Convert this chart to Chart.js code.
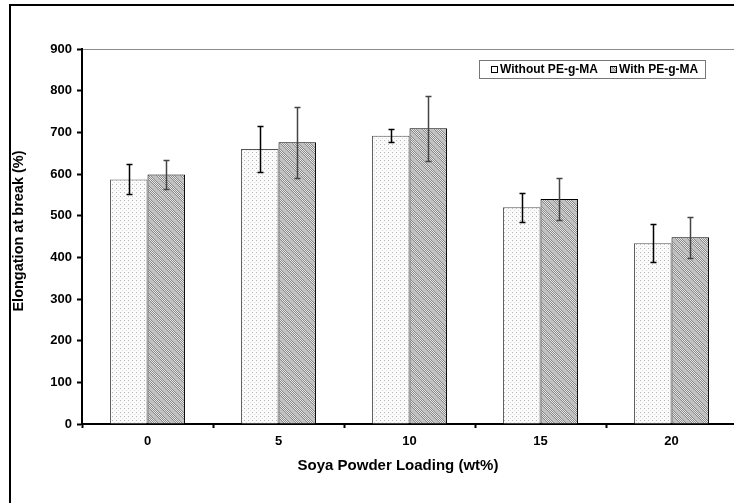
<!DOCTYPE html>
<html>
<head>
<meta charset="utf-8">
<script src="https://cdn.jsdelivr.net/npm/chart.js@4"></script>
<style>
  html, body { margin: 0; padding: 0; background: #fff; overflow: hidden; }
  #wrap { position: relative; width: 734px; height: 503px; overflow: hidden; }
  #frame { position: absolute; left: 9px; top: 4px; width: 800px; height: 600px;
           border-left: 2px solid #000; border-top: 2px solid #000; }
  #chart { position: absolute; left: 0; top: 0; }
</style>
</head>
<body>
<div id="wrap">
  <div id="frame"></div>
  <canvas id="chart" width="740" height="503"></canvas>
</div>
<script>
// Soya powder loading (wt%)
const loadings = ["0", "5", "10", "15", "20"];

// Elongation at break (%)
const withoutValues = [587, 660, 692, 520, 434];
const withoutErrors = [36, 56, 16, 34, 46];
const withValues = [599, 676, 710, 540, 448];
const withErrors = [35, 85, 78, 50, 50];

const seriesNames = ["Without PE-g-MA", "With PE-g-MA"];
const yTicks = [0, 100, 200, 300, 400, 500, 600, 700, 800, 900];

// fill patterns for the bars
const makeDots = () => {
  const c = document.createElement("canvas");
  c.width = 4; c.height = 4;
  const g = c.getContext("2d");
  g.fillStyle = "#fbfbfb";
  g.fillRect(0, 0, 4, 4);
  g.fillStyle = "#b4b4b4";
  g.fillRect(0, 0, 1, 1);
  g.fillStyle = "#dcdcdc";
  g.fillRect(2, 2, 1, 1);
  return g.createPattern(c, "repeat");
};

const makeHatch = () => {
  const n = 12;
  const c = document.createElement("canvas");
  c.width = n; c.height = n;
  const g = c.getContext("2d");
  for (let x = 0; x < n; x++) {
    for (let y = 0; y < n; y++) {
      const d = ((x - y) % n + n) % n;
      if (d < 5) g.fillStyle = "#c0c0c0";
      else g.fillStyle = (x + y) % 2 ? "#8a8a8a" : "#e6e6e6";
      g.fillRect(x, y, 1, 1);
    }
  }
  return g.createPattern(c, "repeat");
};

const dots = makeDots();
const hatch = makeHatch();

const errors = [withoutErrors, withErrors];
const errorColors = ["#000", "#444"];

// error bars with small caps
const errorBars = {
  id: "errorBars",
  afterDatasetsDraw(chart) {
    const ctx = chart.ctx;
    const y = chart.scales.y;
    chart.data.datasets.forEach((ds, i) => {
      const meta = chart.getDatasetMeta(i);
      meta.data.forEach((bar, j) => {
        const v = ds.data[j], e = errors[i][j];
        const top = Math.round(y.getPixelForValue(v + e)) + 0.5;
        const bot = Math.round(y.getPixelForValue(v - e)) + 0.5;
        const x = Math.round(bar.x) + 0.5;
        ctx.save();
        ctx.strokeStyle = errorColors[i];
        ctx.lineWidth = 1.5;
        ctx.beginPath();
        ctx.moveTo(x, top); ctx.lineTo(x, bot);
        ctx.moveTo(x - 3, top); ctx.lineTo(x + 3, top);
        ctx.moveTo(x - 3, bot); ctx.lineTo(x + 3, bot);
        ctx.stroke();
        ctx.restore();
      });
    });
  }
};

// axis titles and the boxed legend
const decorations = {
  id: "decorations",
  afterDraw(chart) {
    const ctx = chart.ctx;
    ctx.save();
    ctx.fillStyle = "#000";
    ctx.font = "bold 15px 'Liberation Sans', Arial, sans-serif";
    ctx.textAlign = "center";
    ctx.textBaseline = "middle";
    ctx.fillText("Soya Powder Loading (wt%)", 398, 466);
    ctx.font = "bold 14.5px 'Liberation Sans', Arial, sans-serif";
    ctx.translate(19, 231);
    ctx.rotate(-Math.PI / 2);
    ctx.fillText("Elongation at break (%)", 0, 0);
    ctx.restore();

    ctx.save();
    ctx.strokeStyle = "#777";
    ctx.lineWidth = 1;
    ctx.fillStyle = "#fff";
    ctx.fillRect(479.5, 60.5, 226, 18);
    ctx.strokeRect(479.5, 60.5, 226, 18);
    ctx.font = "bold 12px 'Liberation Sans', Arial, sans-serif";
    ctx.textAlign = "left";
    ctx.textBaseline = "middle";
    const items = [
      { x: 491, fill: "#fff", name: seriesNames[0] },
      { x: 610, fill: hatch, name: seriesNames[1] }
    ];
    items.forEach((it) => {
      ctx.fillStyle = it.fill;
      ctx.fillRect(it.x, 66, 7, 7);
      ctx.strokeStyle = "#000";
      ctx.strokeRect(it.x + 0.5, 66.5, 6, 6);
      ctx.fillStyle = "#000";
      ctx.fillText(it.name, it.x + 9, 70);
    });
    ctx.restore();
  }
};

new Chart(document.getElementById("chart"), {
  type: "bar",
  plugins: [errorBars, decorations],
  data: {
    labels: loadings,
    datasets: [
      {
        label: seriesNames[0],
        data: withoutValues,
        backgroundColor: dots,
        borderColor: "#555",
        borderWidth: 1,
        categoryPercentage: 0.573,
        barPercentage: 1
      },
      {
        label: seriesNames[1],
        data: withValues,
        backgroundColor: hatch,
        borderColor: "#000",
        borderWidth: 1,
        categoryPercentage: 0.573,
        barPercentage: 1
      }
    ]
  },
  options: {
    responsive: false,
    animation: false,
    layout: { padding: { left: 0, top: 49, right: 3, bottom: 0 } },
    plugins: {
      legend: { display: false },
      tooltip: { enabled: false }
    },
    scales: {
      x: {
        afterFit: (s) => { s.height = 79; },
        border: { color: "#000", width: 2 },
        grid: {
          offset: true,
          drawOnChartArea: false,
          tickColor: "#000",
          tickWidth: 2,
          tickLength: 4
        },
        ticks: {
          color: "#000",
          padding: 6,
          font: { family: "'Liberation Sans', Arial, sans-serif", size: 13, weight: "bold" }
        }
      },
      y: {
        min: 0,
        max: 900,
        afterFit: (s) => { s.width = 82; },
        afterBuildTicks: (s) => { s.ticks = yTicks.map((v) => ({ value: v })); },
        border: { color: "#000", width: 2 },
        grid: {
          color: (c) => (c.tick && c.tick.value === 900 ? "#8c8c8c" : "rgba(0,0,0,0)"),
          tickColor: "#000",
          tickWidth: 2,
          tickLength: 5
        },
        ticks: {
          color: "#000",
          padding: 5,
          font: { family: "'Liberation Sans', Arial, sans-serif", size: 13, weight: "bold" }
        }
      }
    }
  }
});
</script>
</body>
</html>
